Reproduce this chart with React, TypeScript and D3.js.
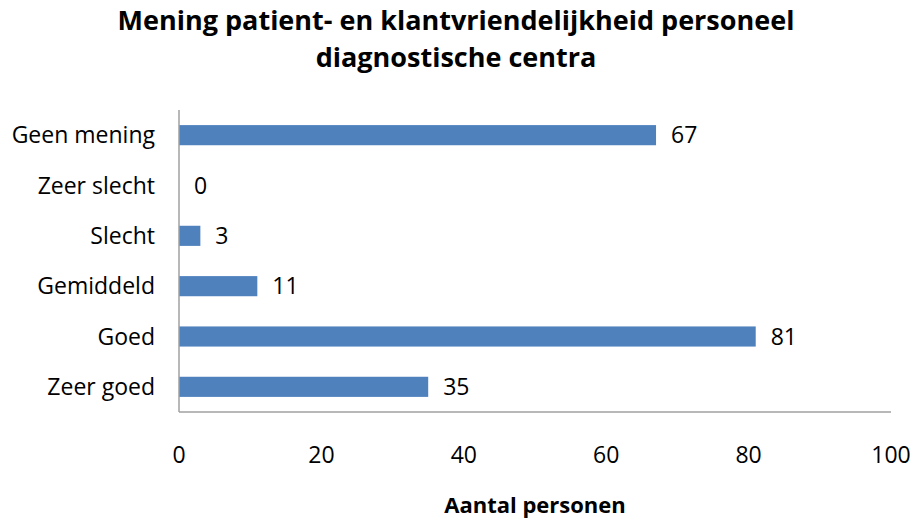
import React, { useEffect, useRef } from 'react';
import * as d3 from 'd3';

const categories = ['Geen mening', 'Zeer slecht', 'Slecht', 'Gemiddeld', 'Goed', 'Zeer goed'];
const values = [67, 0, 3, 11, 81, 35];
const xTicks = [0, 20, 40, 60, 80, 100];
const titleLines = ['Mening patient- en klantvriendelijkheid personeel', 'diagnostische centra'];
const xTitle = 'Aantal personen';

const App: React.FC = () => {
    const svgRef = useRef<SVGSVGElement | null>(null);

    useEffect(() => {
        if (!svgRef.current) return;
        const svg = d3.select(svgRef.current);
        svg.selectAll('*').remove();

        const font = '"Open Sans", sans-serif';
        const left = 179, right = 891, top = 110, bottom = 412;

        const x = d3.scaleLinear().domain([0, 100]).range([left, right]);
        const y = d3.scaleBand().domain(categories).range([top, bottom]).paddingInner(0.6).paddingOuter(0.3);

        // title
        svg.selectAll('text.title')
            .data(titleLines)
            .enter()
            .append('text')
            .attr('class', 'title')
            .attr('x', 456)
            .attr('y', (d, i) => 30 + i * 37)
            .attr('text-anchor', 'middle')
            .style('font-family', font)
            .style('font-weight', 'bold')
            .style('font-size', '27px')
            .text(d => d);

        // bars
        svg.selectAll('rect.bar')
            .data(values)
            .enter()
            .append('rect')
            .attr('class', 'bar')
            .attr('x', x(0))
            .attr('y', (d, i) => y(categories[i])!)
            .attr('width', d => x(d) - x(0))
            .attr('height', y.bandwidth())
            .style('fill', '#4F81BD');

        // value labels
        svg.selectAll('text.val')
            .data(values)
            .enter()
            .append('text')
            .attr('class', 'val')
            .attr('x', d => x(d) + 15)
            .attr('y', (d, i) => y(categories[i])! + y.bandwidth() / 2)
            .attr('dy', '0.35em')
            .style('font-family', font)
            .style('font-size', '23px')
            .text(d => d);

        // category labels
        svg.selectAll('text.cat')
            .data(categories)
            .enter()
            .append('text')
            .attr('class', 'cat')
            .attr('x', left - 24)
            .attr('y', d => y(d)! + y.bandwidth() / 2)
            .attr('dy', '0.35em')
            .attr('text-anchor', 'end')
            .style('font-family', font)
            .style('font-size', '23px')
            .text(d => d);

        // axes lines
        svg.append('line')
            .attr('x1', left).attr('x2', left)
            .attr('y1', top).attr('y2', bottom)
            .style('stroke', '#A0A0A0').style('stroke-width', '1.5px');
        svg.append('line')
            .attr('x1', left).attr('x2', right)
            .attr('y1', bottom).attr('y2', bottom)
            .style('stroke', '#A0A0A0').style('stroke-width', '1.5px');

        // x tick labels
        svg.selectAll('text.tick')
            .data(xTicks)
            .enter()
            .append('text')
            .attr('class', 'tick')
            .attr('x', d => x(d))
            .attr('y', 463)
            .attr('text-anchor', 'middle')
            .style('font-family', font)
            .style('font-size', '23px')
            .text(d => d);

        svg.append('text')
            .attr('x', 535)
            .attr('y', 513)
            .attr('text-anchor', 'middle')
            .style('font-family', font)
            .style('font-weight', 'bold')
            .style('font-size', '22px')
            .text(xTitle);
    }, []);

    return (
        <svg ref={svgRef} width={915} height={522}
            style={{ position: 'absolute', left: 0, top: 0, background: 'white' }}>
        </svg>
    );
};

export default App;
